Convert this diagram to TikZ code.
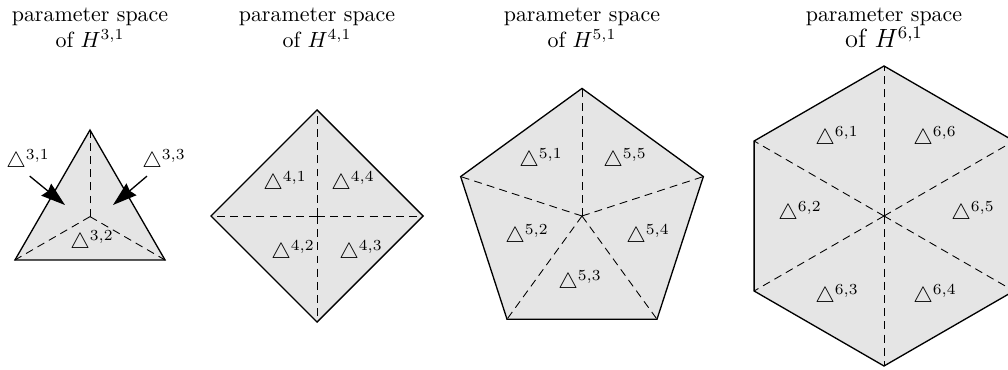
\documentclass[tikz,border=0pt]{standalone}
\usepackage{amssymb}
\usetikzlibrary{shapes.geometric, arrows.meta}

\begin{document}
\begin{tikzpicture}[
  space/.style  = {draw, regular polygon, fill=gray!20, semithick,
                   inner sep=0pt, outer sep=0pt},
  title/.style  = {align=center, anchor=north, inner sep=0pt},
  cell/.style   = {inner sep=1pt},
  split/.style  = {dash pattern=on 3.6pt off 2.4pt, thin},
  pointer/.style= {-{Stealth[length=11pt, width=7pt, inset=1pt]},
                   semithick, shorten <=1pt}
]
\useasboundingbox (0,0) rectangle (16.128,-5.92);
\coordinate (top) at (0,-0.12);

%── Parameter spaces ──────────────────────────────────────────────────────
\node[space, regular polygon sides=3, minimum size=2.771cm] (p3) at (1.44,-3.466) {};
\node[space, regular polygon sides=4, minimum size=3.394cm,
      shape border rotate=45] (p4) at (5.072,-3.456) {};
\node[space, regular polygon sides=5, minimum size=4.083cm] (p5) at (9.312,-3.456) {};
\node[space, regular polygon sides=6, minimum size=4.8cm,
      shape border rotate=30] (p6) at (14.144,-3.456) {};

%── Splitting into cells ──────────────────────────────────────────────────
\foreach \n in {3,4,5,6}
  \foreach \i in {1,...,\n}
    \draw[split] (p\n.center) -- (p\n.corner \i);

%── Titles ────────────────────────────────────────────────────────────────
\node[title] (t3) at (p3 |- top) {parameter space\\of $H^{3,1}$};
\node[title] (t4) at (p4 |- top) {parameter space\\of $H^{4,1}$};
\node[title] (t5) at (p5 |- top) {parameter space\\of $H^{5,1}$};
\node[title] (t6) at (p6 |- top) {parameter space\\\large of $H^{6,1}$};

%── Cells of H^{3,1} ──────────────────────────────────────────────────────
\node[cell] (l31) at (0.448,-2.576) {$\triangle^{3,1}$};
\node[cell] (l32) at (1.472,-3.872) {$\triangle^{3,2}$};
\node[cell] (l33) at (2.624,-2.576) {$\triangle^{3,3}$};

\coordinate (a31) at (1.04,-3.28);
\coordinate (a33) at (1.808,-3.28);
\draw[pointer] (l31.south) -- (a31);
\draw[pointer] ([xshift=-7pt]l33.south) -- (a33);

%── Cells of H^{4,1} ──────────────────────────────────────────────────────
\node[cell] (l41) at (4.56,-2.928)  {$\triangle^{4,1}$};
\node[cell] (l42) at (4.688,-4.032) {$\triangle^{4,2}$};
\node[cell] (l43) at (5.776,-4.032) {$\triangle^{4,3}$};
\node[cell] (l44) at (5.648,-2.928) {$\triangle^{4,4}$};

%── Cells of H^{5,1} ──────────────────────────────────────────────────────
\node[cell] (l51) at (8.656,-2.56)  {$\triangle^{5,1}$};
\node[cell] (l52) at (8.432,-3.776) {$\triangle^{5,2}$};
\node[cell] (l53) at (9.28,-4.512)  {$\triangle^{5,3}$};
\node[cell] (l54) at (10.368,-3.776) {$\triangle^{5,4}$};
\node[cell] (l55) at (10.0,-2.56)   {$\triangle^{5,5}$};

%── Cells of H^{6,1} ──────────────────────────────────────────────────────
\node[cell] (l61) at (13.392,-2.208) {$\triangle^{6,1}$};
\node[cell] (l62) at (12.8,-3.408)   {$\triangle^{6,2}$};
\node[cell] (l63) at (13.392,-4.736) {$\triangle^{6,3}$};
\node[cell] (l64) at (14.96,-4.736)  {$\triangle^{6,4}$};
\node[cell] (l65) at (15.568,-3.408) {$\triangle^{6,5}$};
\node[cell] (l66) at (14.96,-2.208)  {$\triangle^{6,6}$};

\end{tikzpicture}
\end{document}
